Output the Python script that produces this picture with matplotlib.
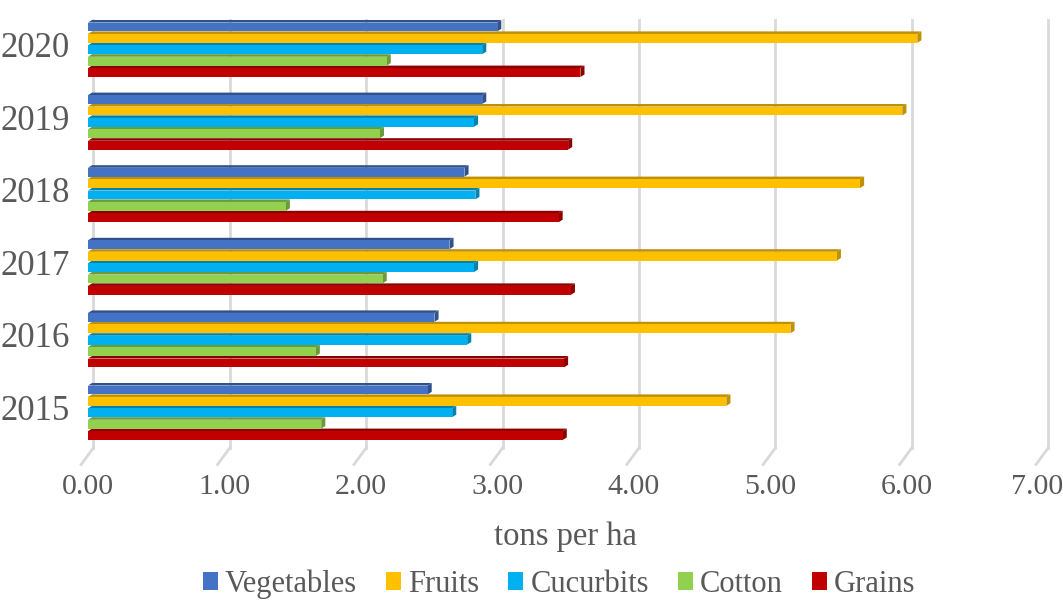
import numpy as np
import matplotlib.pyplot as plt
from matplotlib.patches import Polygon, Rectangle, Patch

years = ['2015', '2016', '2017', '2018', '2019', '2020']
crops = ['Vegetables', 'Fruits', 'Cucurbits', 'Cotton', 'Grains']
vegetables = [2.49, 2.54, 2.65, 2.76, 2.89, 3.00]
fruits = [4.68, 5.15, 5.49, 5.66, 5.97, 6.08]
cucurbits = [2.67, 2.78, 2.83, 2.84, 2.83, 2.89]
cotton = [1.71, 1.67, 2.16, 1.45, 2.14, 2.19]
grains = [3.48, 3.49, 3.54, 3.45, 3.52, 3.61]
x_ticks = [0, 1, 2, 3, 4, 5, 6, 7]

colors = ['#4472C4', '#FFC000', '#00B0F0', '#92D050', '#C00000']
dark = ['#2F528F', '#BF9000', '#0083B3', '#6A9A3A', '#8C0000']
series = [vegetables, fruits, cucurbits, cotton, grains]

plt.rcParams['font.family'] = ['Liberation Serif', 'DejaVu Serif']
txt = '#595959'

fig = plt.figure(figsize=(10.63, 6.11), dpi=100)
ax = fig.add_axes([0, 0, 1, 1])
ax.set_xlim(-0.645, 7.148)
ax.set_ylim(-2.748, 5.668)
ax.axis('off')

# 3D-ish gridlines: back wall vertical + slanted floor line
back = 0.04
for t in x_ticks:
    ax.plot([t + back, t + back], [5.39, -0.50], color='#d9d9d9', lw=2, zorder=0)
    ax.plot([t + back, t - 0.05], [-0.50, -0.73], color='#d9d9d9', lw=2, zorder=0)
    ax.text(min(t, 6.96), -1.04, f'{t:.2f}', ha='center', va='center', fontsize=21.5, color=txt)

h = 0.157
dx, dy = 0.03, 0.035
for gi, yr in enumerate(years):
    ax.text(-0.13, gi, yr, ha='right', va='center', fontsize=25, color=txt)
    # draw from bottom bar up so the upper bar covers the top face below
    for si in range(len(crops) - 1, -1, -1):
        v = series[si][gi]
        yb = gi + (2 - si) * h - h / 2
        yt = yb + h - dy
        z = 2 + (4 - si)
        ax.add_patch(Polygon([(0, yt), (dx, yt + dy), (v + dx, yt + dy), (v, yt)],
                             closed=True, facecolor=dark[si], edgecolor='none', zorder=z))
        ax.add_patch(Polygon([(v, yb), (v, yt), (v + dx, yt + dy), (v + dx, yb + dy)],
                             closed=True, facecolor=dark[si], edgecolor='none', zorder=z))
        ax.add_patch(Rectangle((0, yb), v, yt - yb, facecolor=colors[si],
                               edgecolor='none', zorder=z))

ax.text(3.5, -1.72, 'tons per ha', ha='center', va='center', fontsize=23.5, color=txt)

handles = [Patch(facecolor=c, edgecolor='none') for c in colors]
leg = fig.legend(handles, crops, loc='center', bbox_to_anchor=(0.526, 0.044), ncol=5,
                 frameon=False, fontsize=22, handlelength=0.49, handleheight=0.49,
                 handletextpad=0.23, columnspacing=0.95, borderpad=0)
for t in leg.get_texts():
    t.set_color(txt)

fig.savefig('out.png', dpi=100)
